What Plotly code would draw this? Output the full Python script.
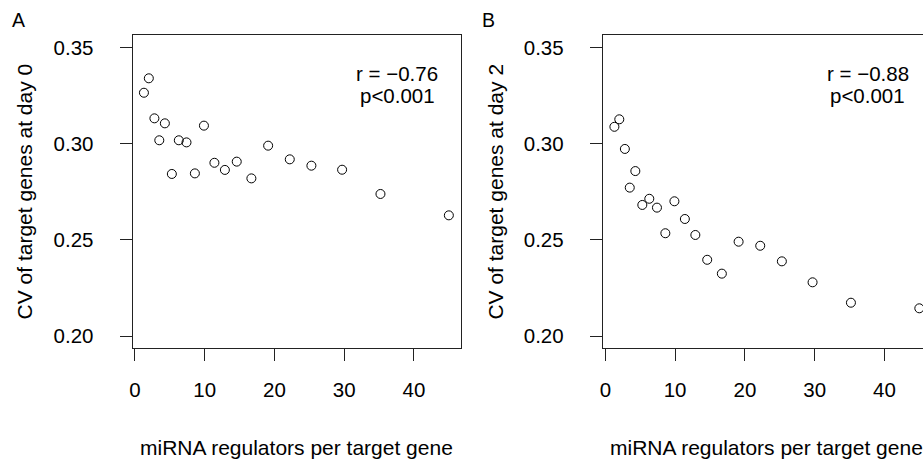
import plotly.graph_objects as go

# Data
regulators = [1.3, 2.0, 2.8, 4.3, 3.5, 5.3, 6.3, 7.4, 8.6, 9.9,
              11.4, 12.9, 14.6, 16.7, 19.1, 22.2, 25.3, 29.7, 35.2, 45.0]
cv_day0 = [0.3264, 0.3339, 0.3131, 0.3105, 0.3017, 0.2842, 0.3017, 0.3006, 0.2845, 0.3093,
           0.2900, 0.2863, 0.2906, 0.2819, 0.2989, 0.2918, 0.2885, 0.2864, 0.2738, 0.2627]
cv_day2 = [0.3087, 0.3126, 0.2972, 0.2857, 0.2771, 0.2681, 0.2713, 0.2667, 0.2534, 0.2700,
           0.2608, 0.2525, 0.2396, 0.2324, 0.2490, 0.2469, 0.2388, 0.2279, 0.2173, 0.2144]
x_ticks = [0, 10, 20, 30, 40]
y_ticks = [0.20, 0.25, 0.30, 0.35]
y_ticklabels = ["0.20", "0.25", "0.30", "0.35"]
panel_labels = ["A", "B"]
stats = [("r = \u22120.76", "p&lt;0.001"), ("r = \u22120.88", "p&lt;0.001")]
ytitles = ["CV of target genes at day 0", "CV of target genes at day 2"]
xtitle = "miRNA regulators per target gene"

W, H = 923, 465
top, bottom = 35, 348
FONT = "Liberation Sans, Arial, Helvetica, sans-serif"
FS = 20.5

fig = go.Figure()
marker = dict(symbol="circle-open", size=9, color="black", line=dict(width=1, color="black"))
fig.add_trace(go.Scatter(x=regulators, y=cv_day0, mode="markers", marker=marker,
                         xaxis="x", yaxis="y", showlegend=False))
fig.add_trace(go.Scatter(x=regulators, y=cv_day2, mode="markers", marker=marker,
                         xaxis="x2", yaxis="y2", showlegend=False))

axis_common = dict(showgrid=False, zeroline=False, showline=True, linecolor="#222",
                   linewidth=1, ticks="outside", ticklen=12, tickwidth=1, tickcolor="#222",
                   tickfont=dict(family=FONT, size=FS, color="black"))

boxA = (130, 459)
boxB = (601.7, 931)
pxu = 7.0
x0A, x0B = 132.3, 604.3

def xrange_for(box, x0, right_px):
    return [(box[0] - x0) / pxu, (right_px - x0) / pxu]

yr = [0.19377, 0.3564]

fig.update_layout(
    width=W, height=H,
    margin=dict(l=0, r=0, t=top, b=H - bottom, pad=0),
    paper_bgcolor="white", plot_bgcolor="white",
    xaxis=dict(domain=[boxA[0] / W, boxA[1] / W], range=xrange_for(boxA, x0A, boxA[1]),
               tickvals=x_ticks, mirror=True, ticklabelstandoff=11, anchor="y", **axis_common),
    yaxis=dict(domain=[0, 1], range=yr, tickvals=y_ticks, ticktext=y_ticklabels,
               mirror=True, ticklabelstandoff=22, anchor="x", **axis_common),
    xaxis2=dict(domain=[boxB[0] / W, 1], range=xrange_for(boxB, x0B, W),
                tickvals=x_ticks, mirror=True, ticklabelstandoff=11, anchor="y2", **axis_common),
    yaxis2=dict(domain=[0, 1], range=yr, tickvals=y_ticks, ticktext=y_ticklabels,
                mirror=False, ticklabelstandoff=22, anchor="x2", **axis_common),
)

def py(pix):
    return (bottom - pix) / (bottom - top)

anns = []
for i, (box, xr) in enumerate([(boxA, "x"), (boxB, "x2")]):
    yr_ref = "y" if i == 0 else "y2"
    anns.append(dict(x=37.6, y=0.3366, xref=xr, yref=yr_ref, text=stats[i][0], showarrow=False,
                     xanchor="center", yanchor="middle",
                     font=dict(family=FONT, size=FS, color="black")))
    anns.append(dict(x=37.6, y=0.3252, xref=xr, yref=yr_ref, text=stats[i][1], showarrow=False,
                     xanchor="center", yanchor="middle",
                     font=dict(family=FONT, size=FS, color="black")))
    anns.append(dict(x=(box[0] - 108) / W, y=0.5, xref="paper", yref="paper", text=ytitles[i],
                     textangle=-90, showarrow=False, xanchor="center", yanchor="middle",
                     font=dict(family=FONT, size=21, color="black")))
    anns.append(dict(x=((box[0] + box[1]) / 2) / W, y=py(447), xref="paper", yref="paper",
                     text=xtitle, showarrow=False, xanchor="center", yanchor="middle",
                     font=dict(family=FONT, size=21, color="black")))
anns.append(dict(x=16 / W, y=py(20), xref="paper", yref="paper", text=panel_labels[0],
                 showarrow=False, xanchor="center", yanchor="middle",
                 font=dict(family=FONT, size=19.5, color="black")))
anns.append(dict(x=487.5 / W, y=py(20), xref="paper", yref="paper", text=panel_labels[1],
                 showarrow=False, xanchor="center", yanchor="middle",
                 font=dict(family=FONT, size=19.5, color="black")))
fig.update_layout(annotations=anns)

fig.write_html("out.html", config={"displayModeBar": False},
               post_script="document.body.style.margin='0';document.body.style.overflow='hidden';")
